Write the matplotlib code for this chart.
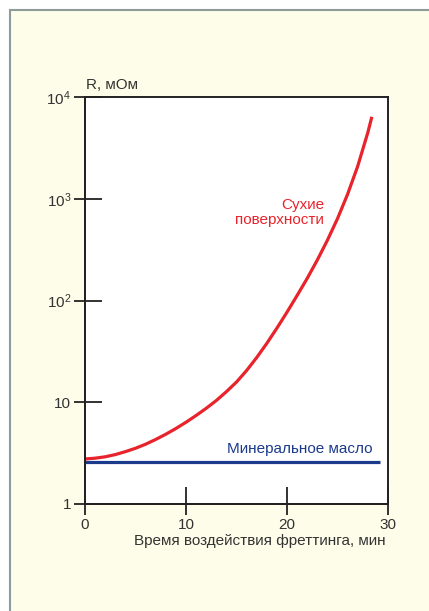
import matplotlib
matplotlib.use('Agg')
import matplotlib.pyplot as plt
from matplotlib.patches import Rectangle

# data
time_dry = [0, 1, 2, 3, 4, 5, 6, 7, 8, 9, 10, 11, 12, 13, 14, 15,
            16, 17, 18, 19, 20, 21, 22, 23, 24, 25, 26, 27, 28, 28.4]
r_dry = [2.77, 2.82, 2.91, 3.06, 3.27, 3.53, 3.87, 4.31, 4.85, 5.52, 6.36, 7.41, 8.72, 10.4, 12.7, 15.8,
         20.5, 27.5, 37.9, 53.5, 76.8, 112, 165, 250, 391, 638, 1108, 2087, 4462, 6390]
time_oil = [0, 29.2]
r_oil = [2.57, 2.57]

x_ticks = [0, 10, 20, 30]
x_tick_labels = ['0', '10', '20', '30']
y_ticks = [1, 10, 100, 1000, 10000]
y_tick_labels = ['1', '10', '$10^2$', '$10^3$', '$10^4$']

label_dry = 'Сухие\nповерхности'
label_oil = 'Минеральное масло'
x_label = 'Время воздействия фреттинга, мин'
y_label = 'R, мОм'

plt.rcParams['font.family'] = ['Liberation Sans', 'DejaVu Sans']
plt.rcParams['mathtext.fontset'] = 'custom'
plt.rcParams['mathtext.rm'] = 'Liberation Sans'
plt.rcParams['mathtext.it'] = 'Liberation Sans'

text_color = '#333333'
axis_color = '#222222'
red = '#e8232b'
blue = '#1c3a8c'

fig = plt.figure(figsize=(4.29, 6.11), dpi=100, facecolor='white')
W, H = 429, 611

# cream panel with grey frame
fig.patches.append(Rectangle((10 / W, -0.1), 1.2, 1 - 9.5 / H + 0.1, transform=fig.transFigure,
                             facecolor='#fdfde9', edgecolor='#8d9b9b', linewidth=1.5, zorder=-5))

ax = fig.add_axes([85 / W, 1 - 504 / H, 303 / W, 407 / H])
ax.set_facecolor('white')

ax.plot(time_dry, r_dry, color=red, lw=2.3, solid_capstyle='butt')
ax.plot(time_oil, r_oil, color=blue, lw=2.3, solid_capstyle='butt')

ax.set_yscale('log')
ax.set_xlim(0, 30)
ax.set_ylim(1, 10000)
ax.set_xticks(x_ticks)
ax.set_yticks(y_ticks)
ax.minorticks_off()

for s in ax.spines.values():
    s.set_linewidth(1.4)
    s.set_color(axis_color)

# inner part of the ticks
ax.tick_params(direction='in', length=12, width=1.3, color=axis_color,
               labelbottom=False, labelleft=False)

# outer part of the ticks with the labels
sec_x = ax.secondary_xaxis('bottom')
sec_x.set_xticks(x_ticks)
sec_x.set_xticklabels(x_tick_labels)
sec_y = ax.secondary_yaxis('left')
sec_y.set_yticks(y_ticks)
sec_y.set_yticklabels(y_tick_labels)
for sec in (sec_x, sec_y):
    sec.minorticks_off()
    sec.tick_params(direction='out', length=8, width=1.3, color=axis_color,
                    labelsize=11, labelcolor=text_color, pad=2)
    for s in sec.spines.values():
        s.set_linewidth(1.4)
        s.set_color(axis_color)

fig.text(386 / W, 1 - 541 / H, x_label, fontsize=11, color=text_color, ha='right', va='center')

ax.text(0.003, 1.012, y_label, transform=ax.transAxes, fontsize=11, color=text_color,
        ha='left', va='bottom')

ax.text(23.7, 730, label_dry, color=red, fontsize=11, ha='right', va='center', linespacing=1.05)
ax.text(28.5, 3.47, label_oil, color=blue, fontsize=11, ha='right', va='center')

fig.savefig('out.png', dpi=100, facecolor=fig.get_facecolor())
